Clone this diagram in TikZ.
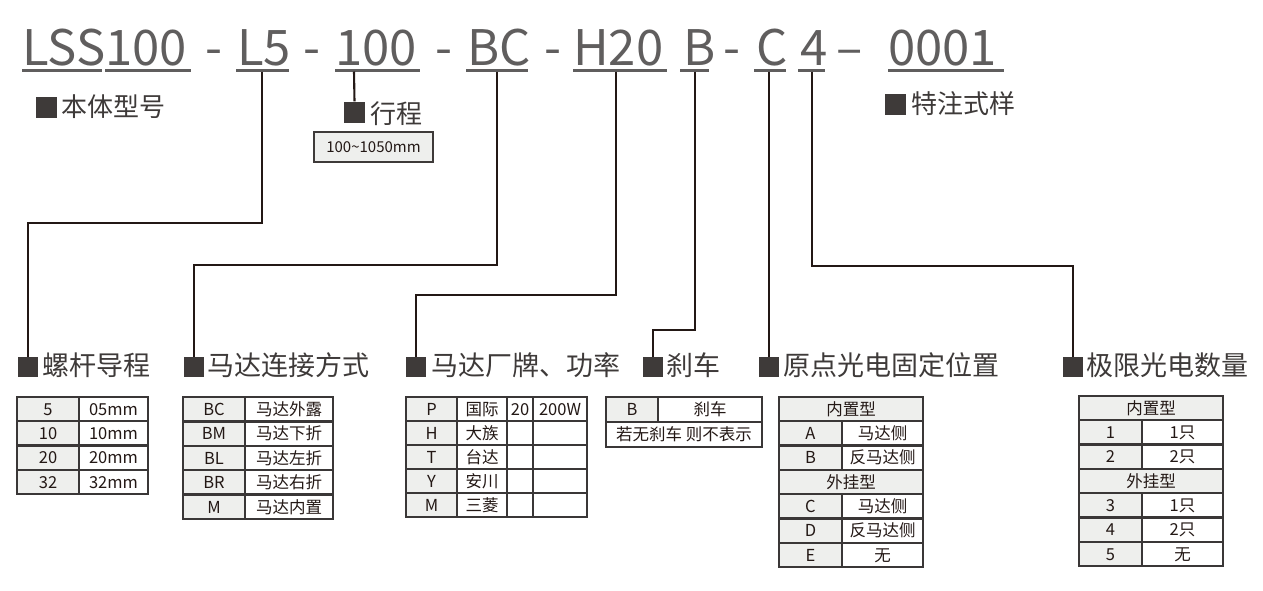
\documentclass[tikz,border=0pt]{standalone}
\usepackage{fontspec}
\setmainfont{Noto Sans CJK SC}
\definecolor{codegray}{HTML}{605E5E}
\definecolor{headdark}{HTML}{3E3A39}
\definecolor{linedark}{HTML}{231815}
\definecolor{tabdark}{HTML}{3A3737}
\definecolor{cellgray}{HTML}{EEEFED}
\newcommand\tc[7]{\node[tcell, fill=#6, minimum width={(#4-#2)*1pt}, minimum height={(#5-#3)*1pt}] (#1) at ({(#2+#4)/2},{(#3+#5)/2}) {#7};}
\begin{document}
\begin{tikzpicture}[x=1pt,y=-1pt,
  code/.style={anchor=base west, inner sep=0, font=\fontsize{49}{49}\selectfont, text=codegray},
  hy/.style={anchor=base, inner sep=0, font=\fontsize{49}{49}\selectfont, text=codegray},
  uline/.style={fill=codegray, inner sep=0, minimum height=2.6pt},
  sq/.style={fill=headdark, inner sep=0, minimum size=20pt},
  htext/.style={anchor=base west, inner sep=0, font=\fontsize{27}{27}\selectfont, text=headdark},
  stext/.style={anchor=base west, inner sep=0, font=\fontsize{26}{26}\selectfont, text=headdark},
  conn/.style={draw=linedark, line width=2.1pt},
  tcell/.style={draw=tabdark, line width=2.4pt, inner sep=0, font=\fontsize{16.5}{16.5}\selectfont, text=linedark, text height=14.5pt, text depth=2pt}]
\useasboundingbox (0,0) rectangle (1263,590);
\fill[white] (0,0) rectangle (1263,590);

% top code
\node[code] (cLSS) at (22,65) {LSS};
\node[code] (c100a) at (105,65) {100};
\node[hy] (h1) at (214,65) {-};
\node[code] (cL5) at (237,65) {L5};
\node[hy] (h2) at (312,65) {-};
\node[code] (c100) at (335,65) {100};
\node[hy] (h3) at (444,65) {-};
\node[code] (cBC) at (467,65) {BC};
\node[hy] (h4) at (553,65) {-};
\node[code] (cH20) at (573,65) {H20};
\node[code] (cB) at (683,65) {B};
\node[hy] (h5) at (732,65) {-};
\node[code] (cC) at (756,65) {C};
\node[code] (c4) at (800,65) {4};
\node[hy] (h6) at (850,65) {–};
\node[code] (c0001) at (888,65) {0001};

% underlines
\node[uline, minimum width=80pt] (uLSS) at (62,70.5) {};
\node[uline, minimum width=86pt] (u100a) at (148,70.5) {};
\node[uline, minimum width=53pt] (uL5) at (262.5,70.5) {};
\node[uline, minimum width=85pt] (u100) at (377.5,70.5) {};
\node[uline, minimum width=62pt] (uBC) at (497,70.5) {};
\node[uline, minimum width=94pt] (uH20) at (620,70.5) {};
\node[uline, minimum width=29pt] (uB) at (694.5,70.5) {};
\node[uline, minimum width=32pt] (uC) at (770,70.5) {};
\node[uline, minimum width=27pt] (u4) at (811.5,70.5) {};
\node[uline, minimum width=116pt] (u0001) at (946,70.5) {};

% upper labels
\node[sq, minimum width=21pt, minimum height=21pt] (sqBody) at (46.5,107.5) {};
\node[stext] (tBody) at (61,116) {本体型号};
\node[sq, minimum width=21pt, minimum height=21pt] (sqStroke) at (354.5,112) {};
\node[stext] (tStroke) at (370,123) {行程};
\node[draw=headdark, line width=1.2pt, fill=cellgray, inner sep=0, minimum width=119pt, minimum height=30pt, font=\fontsize{15}{15}\selectfont, text=linedark] (bStroke) at (373.5,147) {100\char`\~1050mm};
\node[sq, minimum width=21pt, minimum height=21pt] (sqSpec) at (895.5,104.5) {};
\node[stext] (tSpec) at (911,113) {特注式样};

% connector start points
\coordinate (pL5) at (262,71.5);
\coordinate (p100) at (354,71.5);
\coordinate (pBC) at (497,71.5);
\coordinate (pH20) at (616,71.5);
\coordinate (pB) at (695,71.5);
\coordinate (pC) at (769,71.5);
\coordinate (p4) at (812,71.5);

% header squares and texts
\node[sq] (sqLead) at (28,367) {};
\node[htext] (tLead) at (42,375) {螺杆导程};
\node[sq] (sqMot) at (194,367) {};
\node[htext] (tMot) at (207,375) {马达连接方式};
\node[sq] (sqBrand) at (416,367) {};
\node[htext] (tBrand) at (431,375) {马达厂牌、功率};
\node[sq] (sqBrake) at (653,367) {};
\node[htext] (tBrake) at (666,375) {刹车};
\node[sq] (sqOrig) at (769,367) {};
\node[htext] (tOrig) at (783,375) {原点光电固定位置};
\node[sq] (sqLim) at (1073,367) {};
\node[htext] (tLim) at (1086,375) {极限光电数量};

% connectors
\draw[conn] (p100) -- (sqStroke.north);
\draw[conn] (pL5) -- ++(0,151.5) -| (sqLead.north);
\draw[conn] (pBC) -- ++(0,193.5) -| (sqMot.north);
\draw[conn] (pH20) -- ++(0,223.5) -| (sqBrand.north);
\draw[conn] (pB) -- ++(0,258.5) -| (sqBrake.north);
\draw[conn] (pC) -- (sqOrig.north);
\draw[conn] (p4) -- ++(0,194.5) -| (sqLim.north);

% table 1
\tc{a1}{17}{397}{79}{421.25}{cellgray}{5}
\tc{a1b}{79}{397}{148}{421.25}{white}{05mm}
\tc{a2}{17}{421.25}{79}{445.5}{cellgray}{10}
\tc{a2b}{79}{421.25}{148}{445.5}{white}{10mm}
\tc{a3}{17}{445.5}{79}{469.75}{cellgray}{20}
\tc{a3b}{79}{445.5}{148}{469.75}{white}{20mm}
\tc{a4}{17}{469.75}{79}{494}{cellgray}{32}
\tc{a4b}{79}{469.75}{148}{494}{white}{32mm}

% table 2
\tc{b1}{183}{397}{245}{421.4}{cellgray}{BC}
\tc{b1b}{245}{397}{333}{421.4}{white}{马达外露}
\tc{b2}{183}{421.4}{245}{445.8}{cellgray}{BM}
\tc{b2b}{245}{421.4}{333}{445.8}{white}{马达下折}
\tc{b3}{183}{445.8}{245}{470.2}{cellgray}{BL}
\tc{b3b}{245}{445.8}{333}{470.2}{white}{马达左折}
\tc{b4}{183}{470.2}{245}{494.6}{cellgray}{BR}
\tc{b4b}{245}{470.2}{333}{494.6}{white}{马达右折}
\tc{b5}{183}{494.6}{245}{519}{cellgray}{M}
\tc{b5b}{245}{494.6}{333}{519}{white}{马达内置}

% table 3
\tc{c1}{406}{397}{457}{421}{cellgray}{P}
\tc{c1b}{457}{397}{507}{421}{white}{国际}
\tc{c1c}{507}{397}{533}{421}{white}{20}
\tc{c1d}{533}{397}{587}{421}{white}{200W}
\tc{c2}{406}{421}{457}{445}{cellgray}{H}
\tc{c2b}{457}{421}{507}{445}{white}{大族}
\tc{c2c}{507}{421}{533}{445}{white}{}
\tc{c2d}{533}{421}{587}{445}{white}{}
\tc{c3}{406}{445}{457}{469}{cellgray}{T}
\tc{c3b}{457}{445}{507}{469}{white}{台达}
\tc{c3c}{507}{445}{533}{469}{white}{}
\tc{c3d}{533}{445}{587}{469}{white}{}
\tc{c4}{406}{469}{457}{493}{cellgray}{Y}
\tc{c4b}{457}{469}{507}{493}{white}{安川}
\tc{c4c}{507}{469}{533}{493}{white}{}
\tc{c4d}{533}{469}{587}{493}{white}{}
\tc{c5}{406}{493}{457}{517}{cellgray}{M}
\tc{c5b}{457}{493}{507}{517}{white}{三菱}
\tc{c5c}{507}{493}{533}{517}{white}{}
\tc{c5d}{533}{493}{587}{517}{white}{}

% table 4
\tc{d1}{606}{397}{658}{422}{cellgray}{B}
\tc{d1b}{658}{397}{762}{422}{white}{刹车}
\tc{d2}{606}{422}{762}{447}{white}{若无刹车 则不表示}

% table 5
\tc{e0}{779}{397}{923}{421.29}{cellgray}{内置型}
\tc{e1}{779}{421.29}{842}{445.57}{cellgray}{A}
\tc{e1b}{842}{421.29}{923}{445.57}{white}{马达侧}
\tc{e2}{779}{445.57}{842}{469.86}{cellgray}{B}
\tc{e2b}{842}{445.57}{923}{469.86}{white}{反马达侧}
\tc{e3}{779}{469.86}{923}{494.14}{cellgray}{外挂型}
\tc{e4}{779}{494.14}{842}{518.43}{cellgray}{C}
\tc{e4b}{842}{494.14}{923}{518.43}{white}{马达侧}
\tc{e5}{779}{518.43}{842}{542.71}{cellgray}{D}
\tc{e5b}{842}{518.43}{923}{542.71}{white}{反马达侧}
\tc{e6}{779}{542.71}{842}{567}{cellgray}{E}
\tc{e6b}{842}{542.71}{923}{567}{white}{无}

% table 6
\tc{f0}{1079}{396}{1223}{420.29}{cellgray}{内置型}
\tc{f1}{1079}{420.29}{1142}{444.57}{cellgray}{1}
\tc{f1b}{1142}{420.29}{1223}{444.57}{white}{1只}
\tc{f2}{1079}{444.57}{1142}{468.86}{cellgray}{2}
\tc{f2b}{1142}{444.57}{1223}{468.86}{white}{2只}
\tc{f3}{1079}{468.86}{1223}{493.14}{cellgray}{外挂型}
\tc{f4}{1079}{493.14}{1142}{517.43}{cellgray}{3}
\tc{f4b}{1142}{493.14}{1223}{517.43}{white}{1只}
\tc{f5}{1079}{517.43}{1142}{541.71}{cellgray}{4}
\tc{f5b}{1142}{517.43}{1223}{541.71}{white}{2只}
\tc{f6}{1079}{541.71}{1142}{566}{cellgray}{5}
\tc{f6b}{1142}{541.71}{1223}{566}{white}{无}
\end{tikzpicture}
\end{document}
